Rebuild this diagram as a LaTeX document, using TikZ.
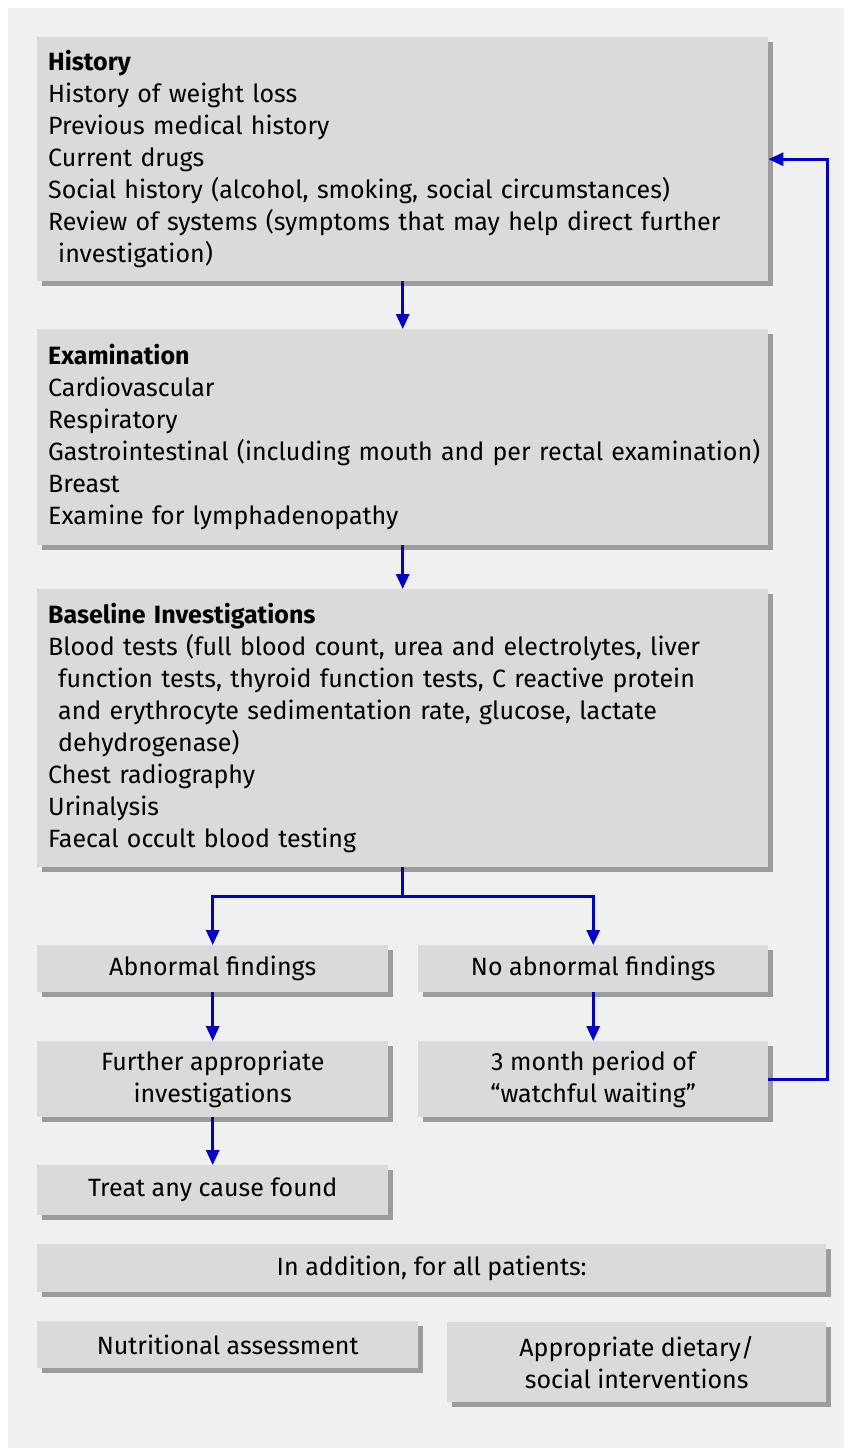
\documentclass[tikz,border=0pt]{standalone}
\usepackage{fontspec}
\setmainfont{Fira Sans}
\usetikzlibrary{arrows.meta,shadows,calc}
\definecolor{bggray}{HTML}{F0F0F0}
\definecolor{boxgray}{HTML}{DADADA}
\definecolor{shadowgray}{HTML}{9C9C9C}
\definecolor{arrowblue}{HTML}{0000C8}
\begin{document}
\begin{tikzpicture}[x=1pt,y=-1pt,
  box/.style={fill=boxgray, draw=none, anchor=north west, inner sep=0pt,
    font=\fontsize{25}{32}\selectfont,
    drop shadow={shadow xshift=5pt, shadow yshift=-5pt, fill=shadowgray, opacity=1}},
  leftbox/.style={box, align=left},
  ctrbox/.style={box, align=center},
  conn/.style={draw=arrowblue, line width=3pt},
  arr/.style={conn, -{Triangle[length=15pt,width=13pt]}}
]
\useasboundingbox (0,0) rectangle (848,1454);
\fill[white] (0,0) rectangle (848,1454);
\fill[bggray] (8,8) rectangle (844,1448);

\node[leftbox, minimum width=731pt, minimum height=244pt, text width=709pt] (hist) at (37,37)
 {\textbf{History}\\
  History of weight loss\\
  Previous medical history\\
  Current drugs\\
  Social history (alcohol, smoking, social circumstances)\\
  \mbox{Review of systems (symptoms that may help direct further}\\
  \hspace*{10pt}investigation)};

\node[leftbox, minimum width=731pt, minimum height=216pt, text width=709pt] (exam) at (37,329)
 {\textbf{Examination}\\
  Cardiovascular\\
  Respiratory\\
  \mbox{Gastrointestinal (including mouth and per rectal examination)}\\
  Breast\\
  Examine for lymphadenopathy};

\node[leftbox, minimum width=731pt, minimum height=278pt, text width=709pt] (base) at (37,589)
 {\textbf{Baseline Investigations}\\
  \mbox{Blood tests (full blood count, urea and electrolytes, liver}\\
  \hspace*{10pt}\mbox{function tests, thyroid function tests, C reactive protein}\\
  \hspace*{10pt}\mbox{and erythrocyte sedimentation rate, glucose, lactate}\\
  \hspace*{10pt}dehydrogenase)\\
  Chest radiography\\
  Urinalysis\\
  Faecal occult blood testing};

\node[ctrbox, minimum width=351pt, minimum height=47pt] (abn) at (37,945) {Abnormal findings};
\node[ctrbox, minimum width=350pt, minimum height=47pt] (noabn) at (418,945) {No abnormal findings};
\node[ctrbox, minimum width=351pt, minimum height=76pt] (further) at (37,1041) {Further appropriate\\investigations};
\node[ctrbox, minimum width=350pt, minimum height=76pt] (wait) at (418,1041) {3 month period of\\“watchful waiting”};
\node[ctrbox, minimum width=351pt, minimum height=50pt] (treat) at (37,1165) {Treat any cause found};
\node[ctrbox, minimum width=789pt, minimum height=48pt] (addition) at (37,1244) {In addition, for all patients:};
\node[ctrbox, minimum width=381pt, minimum height=47pt] (nutri) at (37,1321) {Nutritional assessment};
\node[ctrbox, minimum width=379pt, minimum height=80pt] (diet) at (447,1322) {Appropriate dietary/\\social interventions};

\coordinate (split) at ($(base.south)+(0,29)$);
\coordinate (loop) at ($(wait.east)+(59,0)$);

\draw[arr] (hist.south) -- (exam.north);
\draw[arr] (exam.south) -- (base.north);
\draw[conn] (base.south) -- (split);
\draw[arr] (split) -| (abn.north);
\draw[arr] (split) -| (noabn.north);
\draw[arr] (abn.south) -- (further.north);
\draw[arr] (noabn.south) -- (wait.north);
\draw[arr] (further.south) -- (treat.north);
\draw[arr] (wait.east) -- (loop) |- (hist.east);
\end{tikzpicture}
\end{document}
